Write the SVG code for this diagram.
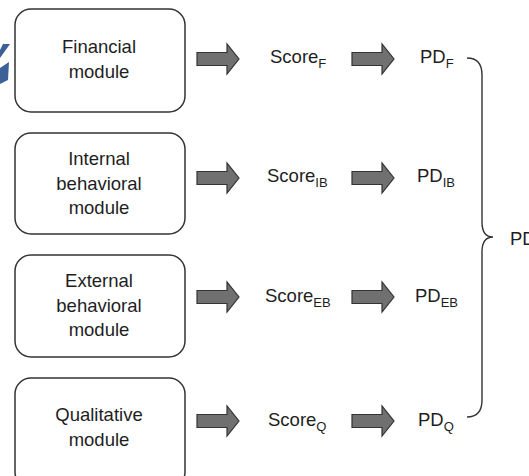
<svg xmlns="http://www.w3.org/2000/svg" width="529" height="476" viewBox="0 0 529 476">
<style>
.box{fill:#fff;stroke:#333;stroke-width:1.5}
.t{font-family:"Liberation Sans",Arial,sans-serif;font-size:18.5px;fill:#1e1e1e;text-anchor:middle}
.s{font-family:"Liberation Sans",Arial,sans-serif;font-size:18.5px;fill:#1e1e1e}
.sub{font-size:13px}
.arr{fill:#707070;stroke:#333;stroke-width:1.2}
</style>
<defs>
<polygon id="arrow" class="arr" points="0,-6.5 30,-6.5 30,-15 42,0 30,15 30,6.5 0,6.5"/>
</defs>
<rect width="529" height="476" fill="#fff"/>
<g id="deco" fill="#3b6196">
<polygon points="3,44 10,44 0,58 0,50"/>
<polygon points="0,68 9,62 8,80 0,84"/>
</g>
<g id="financial"><rect class="box" x="15" y="9" width="170" height="103" rx="16"/>
<text class="t" x="99" y="53">Financial</text><text class="t" x="99" y="78">module</text></g>
<g id="internal"><rect class="box" x="15" y="133" width="170" height="101" rx="16"/>
<text class="t" x="99" y="165">Internal</text><text class="t" x="99" y="190">behavioral</text><text class="t" x="99" y="214">module</text></g>
<g id="external"><rect class="box" x="15" y="255" width="170" height="102" rx="16"/>
<text class="t" x="99" y="287">External</text><text class="t" x="99" y="312">behavioral</text><text class="t" x="99" y="336">module</text></g>
<g id="qualitative"><rect class="box" x="15" y="378" width="170" height="110" rx="16"/>
<text class="t" x="99" y="421">Qualitative</text><text class="t" x="99" y="446">module</text></g>
<g id="scoreF"><text class="s" x="270" y="63">Score<tspan class="sub" dy="5">F</tspan></text></g>
<g id="scoreIB"><text class="s" x="267" y="182">Score<tspan class="sub" dy="5">IB</tspan></text></g>
<g id="scoreEB"><text class="s" x="265" y="302">Score<tspan class="sub" dy="5">EB</tspan></text></g>
<g id="scoreQ"><text class="s" x="268" y="426">Score<tspan class="sub" dy="5">Q</tspan></text></g>
<g id="pdF"><text class="s" x="420" y="63">PD<tspan class="sub" dy="5">F</tspan></text></g>
<g id="pdIB"><text class="s" x="417" y="182">PD<tspan class="sub" dy="5">IB</tspan></text></g>
<g id="pdEB"><text class="s" x="415" y="302">PD<tspan class="sub" dy="5">EB</tspan></text></g>
<g id="pdQ"><text class="s" x="418" y="426">PD<tspan class="sub" dy="5">Q</tspan></text></g>
<g id="pd"><text class="s" x="510" y="245">PD</text></g>
<g id="connectors">
<use href="#arrow" x="197" y="59"/>
<use href="#arrow" x="352" y="59"/>
<use href="#arrow" x="197" y="178"/>
<use href="#arrow" x="352" y="178"/>
<use href="#arrow" x="197" y="297"/>
<use href="#arrow" x="352" y="297"/>
<use href="#arrow" x="197" y="421"/>
<use href="#arrow" x="352" y="421"/>
<path d="M467,58 Q482,58 482,75 L482,222 Q482,237 493,237 Q482,237 482,252 L482,400 Q482,417 467,417" fill="none" stroke="#333" stroke-width="1.4"/>
</g>
</svg>
